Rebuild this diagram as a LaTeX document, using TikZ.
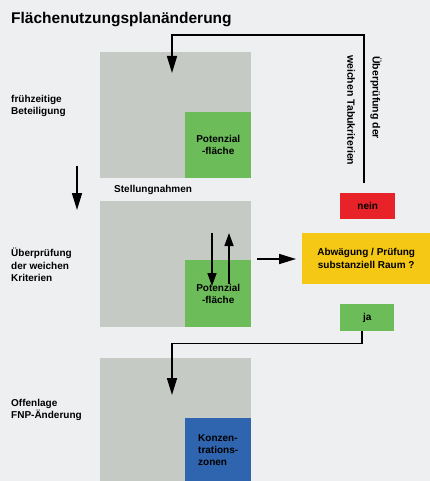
\documentclass[tikz,border=0pt]{standalone}
\usepackage{fontspec}
\setmainfont{Liberation Sans}
\usetikzlibrary{arrows.meta,positioning}
\definecolor{bggray}{HTML}{EEEFF1}
\definecolor{plangray}{HTML}{C6CAC5}
\definecolor{zonegreen}{HTML}{6CBD5A}
\definecolor{zoneblue}{HTML}{2F64AE}
\definecolor{checkyellow}{HTML}{F4C814}
\definecolor{nored}{HTML}{E82229}
\tikzstyle{plan} = [fill=plangray, anchor=north west, inner sep=0pt,
    minimum width=151pt, minimum height=126pt]
\tikzstyle{zone} = [anchor=south east, inner sep=0pt, minimum width=66pt,
    font=\fontsize{10}{12}\selectfont\bfseries, align=center]
\tikzstyle{stage} = [anchor=west, inner sep=0pt, align=left,
    font=\fontsize{10}{12.5}\selectfont\bfseries]
\tikzstyle{answer} = [anchor=north west, inner sep=0pt, minimum width=55pt,
    minimum height=26pt, font=\fontsize{10}{12}\selectfont\bfseries]
\tikzstyle{flow} = [line width=1.6pt, -{Triangle[length=17pt,width=10pt]}]
\tikzstyle{smallflow} = [line width=1.6pt, -{Triangle[length=13pt,width=9pt]}]

\begin{document}
\begin{tikzpicture}[x=1pt,y=-1pt]
    \fill[bggray] (0,0) rectangle (430,481);
    \useasboundingbox (0,0) rectangle (430,481);

    \node[anchor=base west, inner sep=0pt, font=\fontsize{15.5}{18}\selectfont\bfseries]
        (title) at (11,24) {Flächenutzungsplanänderung};

    \node[plan] (plan1) at (100,52) {};
    \node[zone, fill=zonegreen, minimum height=66pt] (zone1) at (plan1.south east) {Potenzial\\-fläche};
    \node[plan] (plan2) at (100,201) {};
    \node[zone, fill=zonegreen, minimum height=67pt] (zone2) at (plan2.south east) {Potenzial\\-fläche};
    \node[plan, minimum height=123pt] (plan3) at (100,358) {};
    \node[zone, fill=zoneblue, minimum height=63pt, align=left] (zone3) at (plan3.south east) {Konzen-\\trations-\\zonen};

    \node[stage] (early) at (11,106) {frühzeitige\\Beteiligung};
    \node[stage] (soft) at (11,265) {Überprüfung\\der weichen\\Kriterien};
    \node[stage] (public) at (11,410) {Offenlage\\FNP-Änderung};
    \node[stage] (comments) at (114,190) {Stellungnahmen};

    \node[fill=checkyellow, anchor=north west, inner sep=0pt, minimum width=128pt,
        minimum height=51pt, align=center, font=\fontsize{10}{13}\selectfont\bfseries]
        (check) at (302,233) {Abwägung / Prüfung\\substanziell Raum ?};
    \node[answer, fill=nored] (nein) at (340,193) {nein};
    \node[answer, fill=zonegreen, minimum width=54pt, minimum height=27pt] (ja) at (340,304) {ja};

    \node[stage, rotate=-90, font=\fontsize{10.5}{12}\selectfont\bfseries] (tabu1) at (376,56) {Überprüfung der};
    \node[stage, rotate=-90, font=\fontsize{10.5}{12}\selectfont\bfseries] (tabu2) at (351,55) {weichen Tabukriterien};

    \coordinate (neintop) at ([xshift=-4pt,yshift=10pt]nein.north);
    \coordinate (jaout) at ([xshift=-5pt]ja.south);
    \coordinate (plan1in) at (172,73);
    \coordinate (plan3in) at (172,395);
    \coordinate (downfrom) at (77,166);
    \coordinate (downto) at (77,210);
    \coordinate (rightfrom) at (257,259);
    \coordinate (rightto) at (296,259);

    \draw[flow] (neintop) -- (neintop |- 0,35) -| (plan1in);
    \draw[flow] (downfrom) -- (downto);
    \draw[smallflow] (212,233) -- (212,286);
    \draw[smallflow] (229,284) -- (229,233);
    \draw[flow] (rightfrom) -- (rightto);
    \draw[flow] (jaout) -- ++(0,12) -| (plan3in);
\end{tikzpicture}
\end{document}
